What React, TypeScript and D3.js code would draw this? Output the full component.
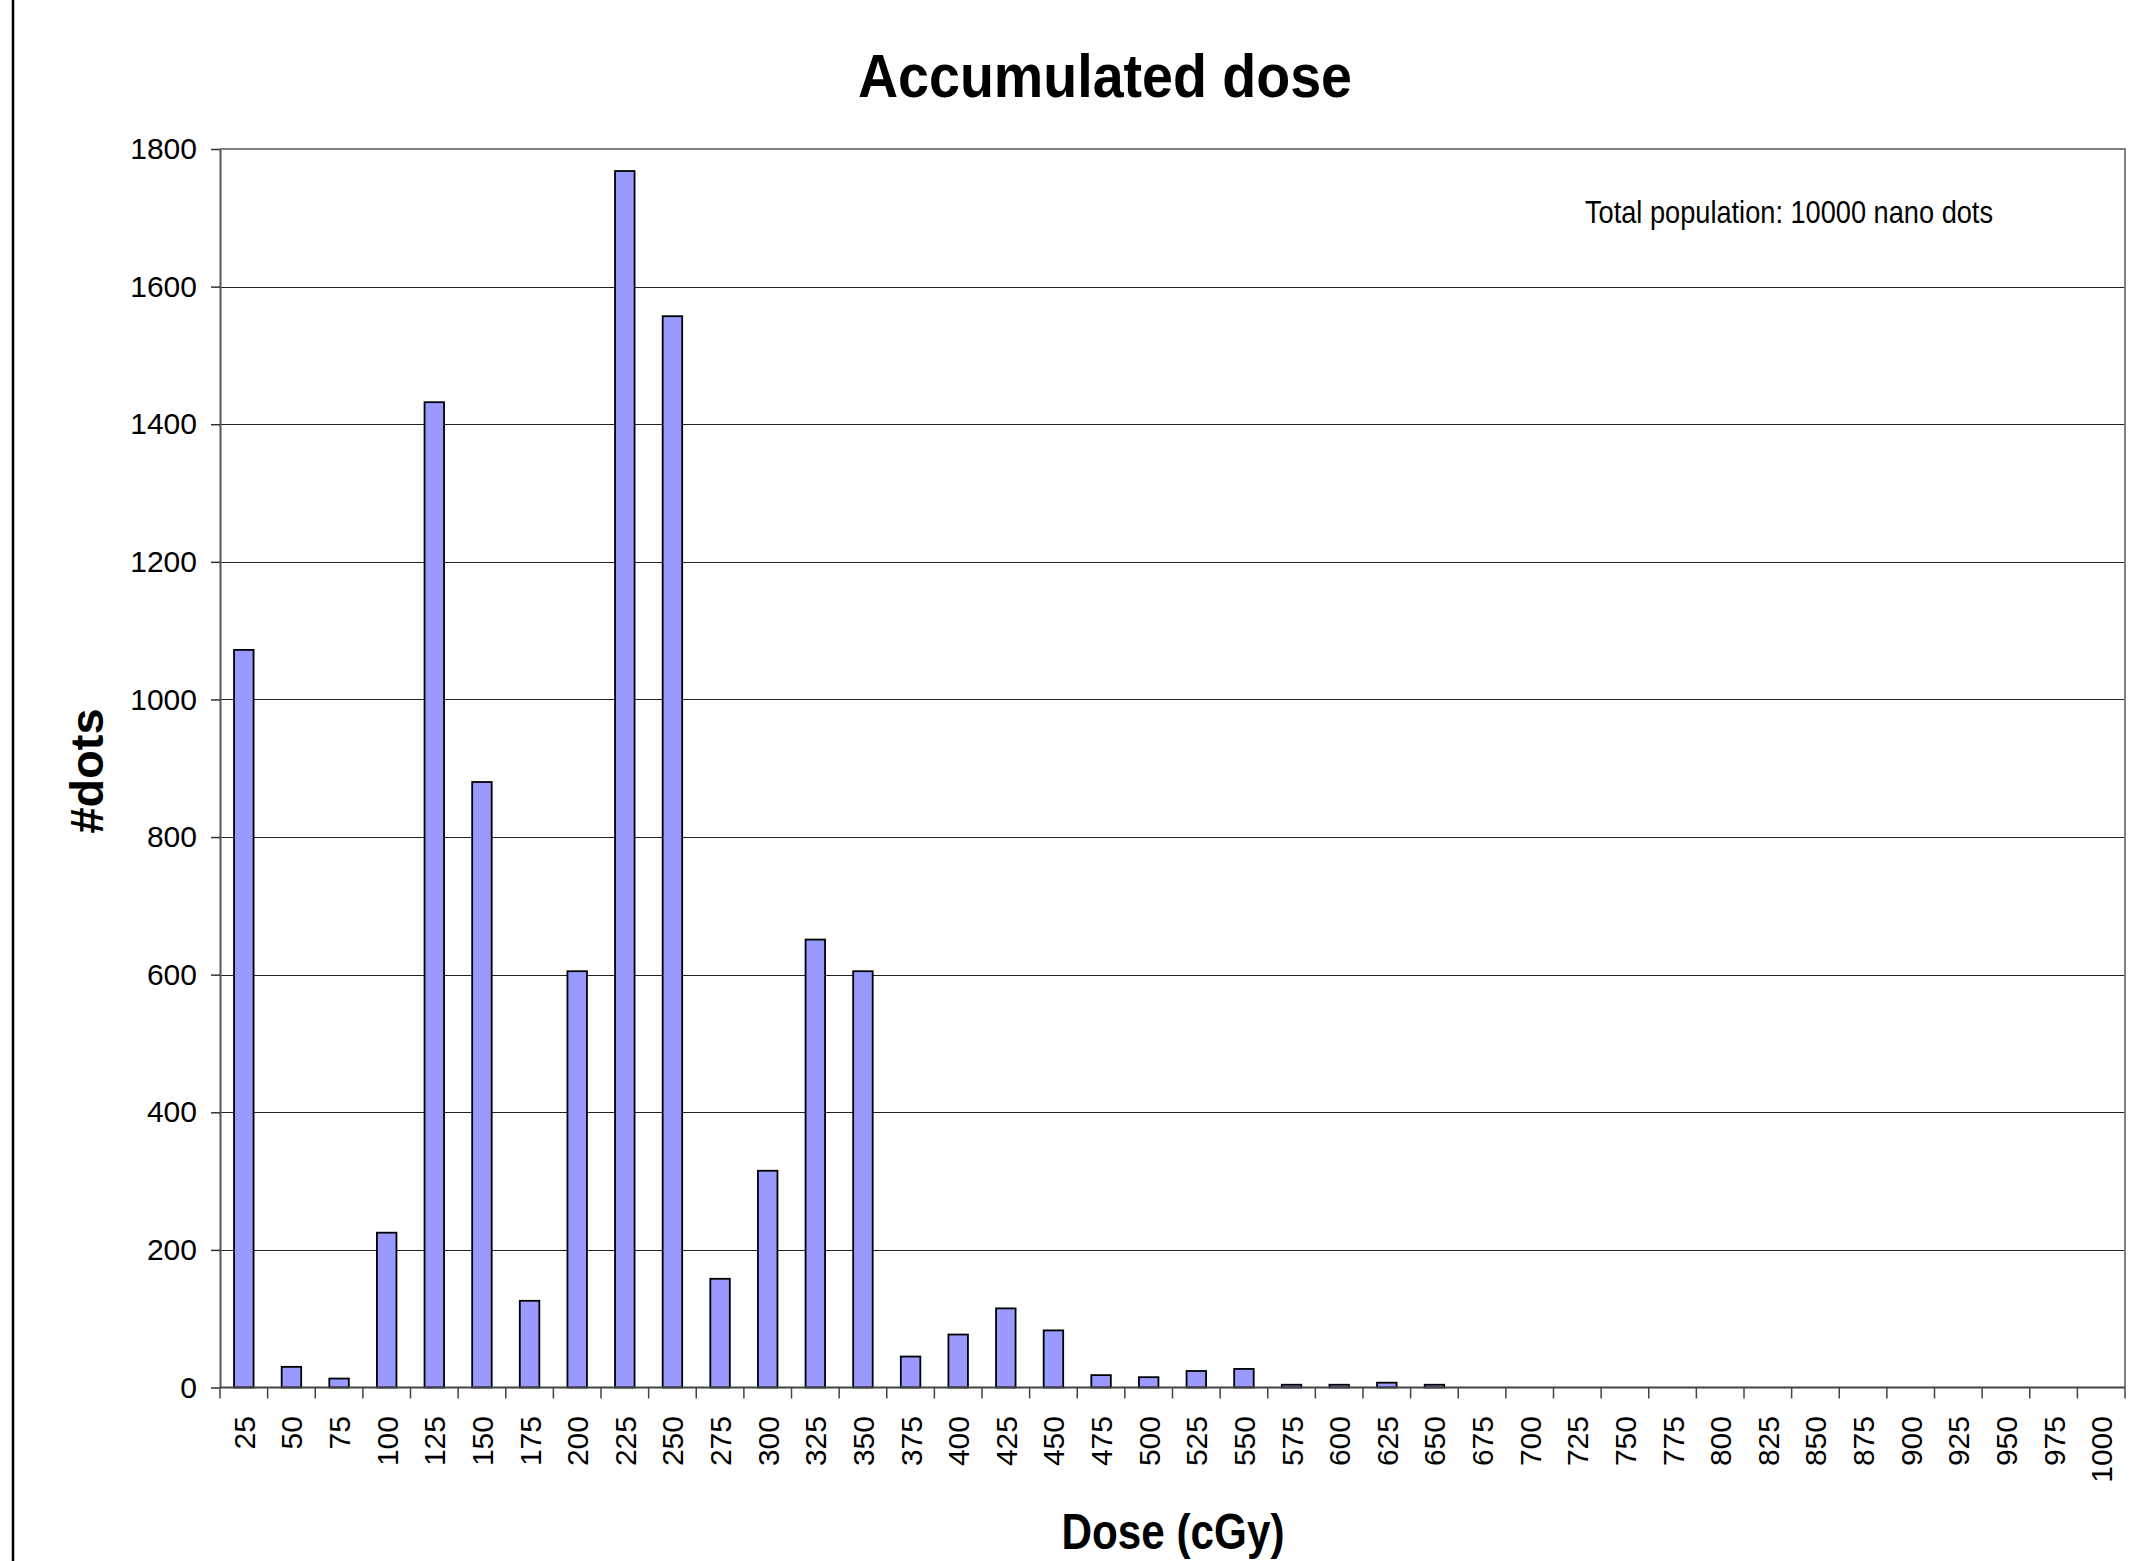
import { useRef, useEffect } from 'react';
import * as d3 from 'd3';

const doseLabels = [
  '25', '50', '75', '100', '125', '150', '175', '200', '225', '250',
  '275', '300', '325', '350', '375', '400', '425', '450', '475', '500',
  '525', '550', '575', '600', '625', '650', '675', '700', '725', '750',
  '775', '800', '825', '850', '875', '900', '925', '950', '975', '1000',
];

const dotCounts = [
  1072, 30, 13, 225, 1432, 880, 126, 605, 1768, 1557,
  158, 315, 651, 605, 45, 77, 115, 83, 18, 15,
  24, 27, 4, 4, 7, 4, 0, 0, 0, 0,
  0, 0, 0, 0, 0, 0, 0, 0, 0, 0,
];

const yTicks = [0, 200, 400, 600, 800, 1000, 1200, 1400, 1600, 1800];

const W = 2154;
const H = 1561;
const FONT = '"Liberation Sans", Arial, sans-serif';

const App = () => {
  const svgRef = useRef<SVGSVGElement | null>(null);

  useEffect(() => {
    if (!svgRef.current) return;
    const svg = d3.select(svgRef.current);
    svg.selectAll('*').remove();

    const plot = { left: 220, right: 2125, top: 149, bottom: 1387.5 };

    const x = d3
      .scaleBand<string>()
      .domain(doseLabels)
      .range([plot.left, plot.right])
      .paddingInner(0.59)
      .paddingOuter(0.295);

    const y = d3.scaleLinear().domain([0, 1800]).range([plot.bottom, plot.top]);

    svg.append('rect').attr('width', W).attr('height', H).attr('fill', '#fff');

    // outer chart border (left side visible)
    svg.append('line')
      .attr('x1', 13).attr('x2', 13).attr('y1', 0).attr('y2', H)
      .attr('stroke', '#000').attr('stroke-width', 2.5);

    // gridlines
    svg.append('g')
      .selectAll('line')
      .data(yTicks.filter((t) => t > 0 && t < 1800))
      .join('line')
      .attr('x1', plot.left).attr('x2', plot.right)
      .attr('y1', (d) => Math.round(y(d)) + 0.5).attr('y2', (d) => Math.round(y(d)) + 0.5)
      .attr('stroke', '#222').attr('stroke-width', 1.2);

    // top and right plot border
    svg.append('path')
      .attr('d', `M${plot.left},${plot.top}H${plot.right}V${plot.bottom}`)
      .attr('fill', 'none').attr('stroke', '#808080').attr('stroke-width', 2);

    // bars
    svg.append('g')
      .selectAll('rect')
      .data(doseLabels.map((d, i) => ({ dose: d, value: dotCounts[i] })).filter((d) => d.value > 0))
      .join('rect')
      .attr('x', (d) => x(d.dose)!)
      .attr('width', x.bandwidth())
      .attr('y', (d) => y(d.value))
      .attr('height', (d) => plot.bottom - y(d.value))
      .attr('fill', '#9999FF')
      .attr('stroke', '#000')
      .attr('stroke-width', 1.8);

    // y axis
    const yAxis = svg.append('g')
      .attr('transform', `translate(${plot.left},0)`)
      .call(
        d3.axisLeft(y)
          .tickValues(yTicks)
          .tickFormat(d3.format('d'))
          .tickSize(9)
          .tickPadding(14)
          .tickSizeOuter(0)
      );
    yAxis.select('.domain').attr('stroke', '#555').attr('stroke-width', 2);
    yAxis.selectAll('.tick line').attr('stroke', '#333').attr('stroke-width', 1.5);
    yAxis.selectAll('.tick text')
      .attr('font-family', FONT).attr('font-size', 30).attr('fill', '#000');

    // x axis: ticks between categories
    const step = x.step();
    const xAxis = svg.append('g');
    xAxis.append('line')
      .attr('x1', plot.left).attr('x2', plot.right)
      .attr('y1', plot.bottom).attr('y2', plot.bottom)
      .attr('stroke', '#444').attr('stroke-width', 2);
    xAxis.selectAll('line.tk')
      .data(d3.range(doseLabels.length + 1))
      .join('line')
      .attr('class', 'tk')
      .attr('x1', (i) => plot.left + i * step).attr('x2', (i) => plot.left + i * step)
      .attr('y1', plot.bottom).attr('y2', plot.bottom + 11)
      .attr('stroke', '#444').attr('stroke-width', 1.5);
    xAxis.selectAll('text')
      .data(doseLabels)
      .join('text')
      .attr('transform', (d) => `translate(${x(d)! + x.bandwidth() / 2 + 11},${1416}) rotate(-90)`)
      .attr('text-anchor', 'end')
      .attr('font-family', FONT).attr('font-size', 30).attr('fill', '#000')
      .text((d) => d);

    // titles
    svg.append('text')
      .attr('x', 1105).attr('y', 97)
      .attr('text-anchor', 'middle')
      .attr('font-family', FONT).attr('font-weight', 'bold').attr('font-size', 62)
      .attr('textLength', 494).attr('lengthAdjust', 'spacingAndGlyphs')
      .text('Accumulated dose');

    svg.append('text')
      .attr('transform', 'translate(103,771) rotate(-90)')
      .attr('text-anchor', 'middle')
      .attr('font-family', FONT).attr('font-weight', 'bold').attr('font-size', 46)
      .attr('textLength', 125).attr('lengthAdjust', 'spacingAndGlyphs')
      .text('#dots');

    svg.append('text')
      .attr('x', 1173).attr('y', 1549)
      .attr('text-anchor', 'middle')
      .attr('font-family', FONT).attr('font-weight', 'bold').attr('font-size', 50)
      .attr('textLength', 223).attr('lengthAdjust', 'spacingAndGlyphs')
      .text('Dose (cGy)');

    svg.append('text')
      .attr('x', 1585).attr('y', 223)
      .attr('font-family', FONT).attr('font-size', 32)
      .attr('textLength', 408).attr('lengthAdjust', 'spacingAndGlyphs')
      .text('Total population: 10000 nano dots');
  }, []);

  return (
    <svg
      ref={svgRef}
      width={W}
      height={H}
      style={{ position: 'absolute', left: 0, top: 0, display: 'block' }}
    />
  );
};

export default App;
